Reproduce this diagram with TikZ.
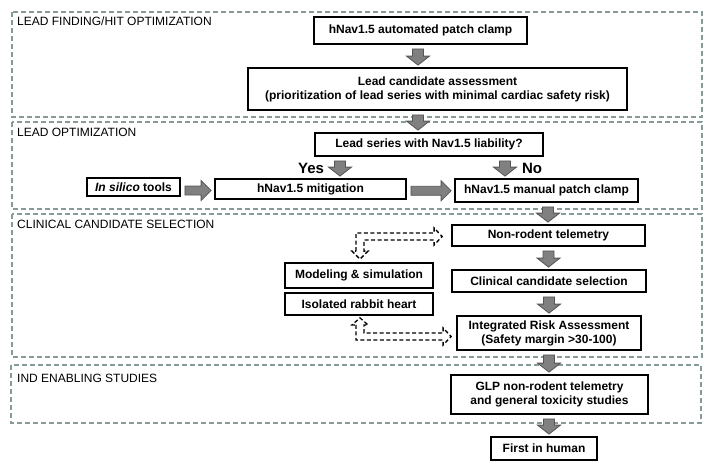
\documentclass[tikz,border=0pt]{standalone}
\usepackage{fontspec}
\setmainfont{Liberation Sans}
\usetikzlibrary{calc}
\definecolor{secgray}{RGB}{135,155,155}
\definecolor{arrfill}{RGB}{128,128,128}
\definecolor{arrline}{RGB}{85,85,85}
\tikzset{
  sect/.style={draw=secgray, line width=1.4pt, dash pattern=on 5pt off 3pt},
  seclabel/.style={anchor=base west, inner sep=0pt, font=\fontsize{12}{14}\selectfont},
  boxn/.style={draw=black, line width=1.8pt, fill=white, inner sep=0pt, align=center,
    font=\fontsize{12}{14}\selectfont\bfseries},
  yesno/.style={inner sep=0pt, font=\fontsize{15}{17}\selectfont\bfseries},
  blk/.style={fill=arrfill, draw=arrline, line width=0.8pt, line join=miter},
  hollow/.style={draw=black, line width=1.3pt, dash pattern=on 4pt off 2.5pt}
}
% vertical block arrow: from node #1 (south, x shift #3) to node #2 (north)
\newcommand{\blkv}[3]{%
  \draw[blk] let \p1=($(#1.south)+(#3,4)$), \p2=(#2.north) in
    ({\x1-5.5pt},{\y1}) -- ({\x1+5.5pt},{\y1}) -- ({\x1+5.5pt},{\y2+11pt})
    -- ({\x1+11.5pt},{\y2+11pt}) -- ({\x1},{\y2+2pt}) -- ({\x1-11.5pt},{\y2+11pt})
    -- ({\x1-5.5pt},{\y2+11pt}) -- cycle;}
% horizontal block arrow from node #1 (east) to node #2 (west), at y shift #3
\newcommand{\blkh}[3]{%
  \draw[blk] let \p1=($(#1.east)+(4,0)$), \p2=($(#2.west)+(-3,0)$) in
    ({\x1},{0.5*\y1+0.5*\y2+4.5pt-#3pt}) -- ({\x2-10pt},{0.5*\y1+0.5*\y2+4.5pt-#3pt})
    -- ({\x2-10pt},{0.5*\y1+0.5*\y2+10pt-#3pt}) -- ({\x2},{0.5*\y1+0.5*\y2-#3pt})
    -- ({\x2-10pt},{0.5*\y1+0.5*\y2-10pt-#3pt}) -- ({\x2-10pt},{0.5*\y1+0.5*\y2-4.5pt-#3pt})
    -- ({\x1},{0.5*\y1+0.5*\y2-4.5pt-#3pt}) -- cycle;}
\begin{document}
\begin{tikzpicture}[x=1pt,y=-1pt]
\useasboundingbox (0,0) rectangle (709,466);
\fill[white] (0,0) rectangle (709,466);
% sections
\draw[sect] (12,12) rectangle (702,117);
\draw[sect] (12,122) rectangle (702,209);
\draw[sect] (12,214) rectangle (702,357);
\draw[sect] (11,365) rectangle (701,423);
\node[seclabel] (l1) at (17,25) {LEAD FINDING/HIT OPTIMIZATION};
\node[seclabel] (l2) at (17,136) {LEAD OPTIMIZATION};
\node[seclabel] (l3) at (17,228) {CLINICAL CANDIDATE SELECTION};
\node[seclabel] (l4) at (17,382) {IND ENABLING STUDIES};
% boxes
\node[boxn, minimum width=213pt, minimum height=27pt] (b1) at (420.5,30.5) {hNav1.5 automated patch clamp};
\node[boxn, minimum width=379pt, minimum height=42pt] (b2) at (437.5,89) {Lead candidate assessment\\(prioritization of lead series with minimal cardiac safety risk)};
\node[boxn, minimum width=228pt, minimum height=23pt] (b3) at (429,144.5) {Lead series with Nav1.5 liability?};
\node[boxn, minimum width=93pt, minimum height=18pt] (b4) at (133.5,187) {\textit{In silico} tools};
\node[boxn, minimum width=191pt, minimum height=20pt] (b5) at (310.5,189) {hNav1.5 mitigation};
\node[boxn, minimum width=183pt, minimum height=23pt] (b6) at (546.5,190.5) {hNav1.5 manual patch clamp};
\node[boxn, minimum width=193pt, minimum height=21pt] (b7) at (548.5,235.5) {Non-rodent telemetry};
\node[boxn, minimum width=194pt, minimum height=22pt] (b8) at (549,281) {Clinical candidate selection};
\node[boxn, minimum width=184pt, minimum height=34pt] (b9) at (549,333) {Integrated Risk Assessment\\(Safety margin >30-100)};
\node[boxn, minimum width=148pt, minimum height=25pt] (b10) at (359,275.5) {Modeling \& simulation};
\node[boxn, minimum width=148pt, minimum height=22pt] (b11) at (359,304) {Isolated rabbit heart};
\node[boxn, minimum width=197pt, minimum height=39pt] (b12) at (549.5,394.5) {GLP non-rodent telemetry\\and general toxicity studies};
\node[boxn, minimum width=106pt, minimum height=23pt] (b13) at (544,448.5) {First in human};
\node[yesno, anchor=base] (yes) at (311,173) {Yes};
\node[yesno, anchor=base] (no) at (532,173) {No};
% block arrows
\blkv{b1}{b2}{-2.5}
\blkv{b2}{b3}{-19.5}
\blkv{b3}{b5}{-89}
\blkv{b3}{b6}{76}
\blkv{b6}{b7}{1.5}
\blkv{b7}{b8}{0}
\blkv{b8}{b9}{0}
\blkv{b9}{b12}{0}
\blkv{b12}{b13}{-0.5}
\blkh{b4}{b5}{2.5}
\blkh{b5}{b6}{1}
% hollow dashed connectors
\draw[hollow] let \p1=($(b10.north)+(1,-3)$), \p2=($(b7.west)+(-9,1)$) in
  ({\x1-4pt},{\y1+8pt}) -- ({\x1-4pt},{\y2+3.5pt}) -- ({\x2-8pt},{\y2+3.5pt})
  -- ({\x2-8pt},{\y2+8.5pt}) -- ({\x2},{\y2}) -- ({\x2-8pt},{\y2-8.5pt})
  -- ({\x2-8pt},{\y2-3.5pt}) -- ({\x1+4pt},{\y2-3.5pt}) -- ({\x1+4pt},{\y1+8pt})
  -- ({\x1+8pt},{\y1+8pt}) -- ({\x1},{\y1}) -- ({\x1-8pt},{\y1+8pt}) -- cycle;
\draw[hollow] let \p1=($(b11.south)+(1,2)$), \p2=($(b9.west)+(-5,3.5)$) in
  ({\x1-4pt},{\y1-7pt}) -- ({\x1-4pt},{\y2-3.5pt}) -- ({\x2-8pt},{\y2-3.5pt})
  -- ({\x2-8pt},{\y2-8.5pt}) -- ({\x2},{\y2}) -- ({\x2-8pt},{\y2+8.5pt})
  -- ({\x2-8pt},{\y2+3.5pt}) -- ({\x1+4pt},{\y2+3.5pt}) -- ({\x1+4pt},{\y1-7pt})
  -- ({\x1+8pt},{\y1-7pt}) -- ({\x1},{\y1}) -- ({\x1-8pt},{\y1-7pt}) -- cycle;
\end{tikzpicture}
\end{document}
